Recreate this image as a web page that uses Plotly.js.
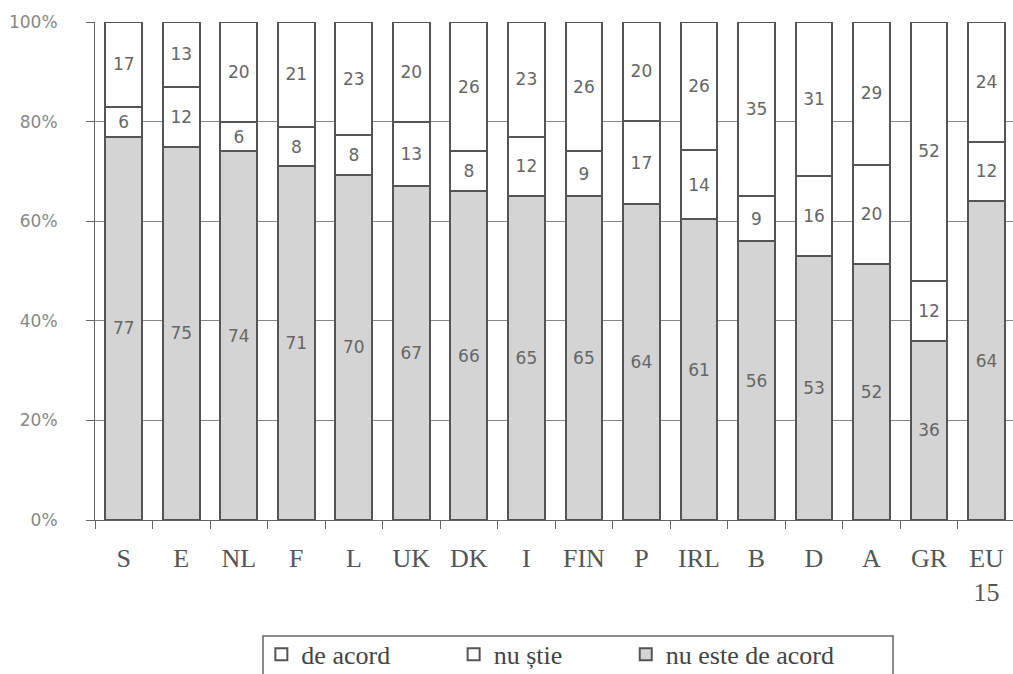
<!DOCTYPE html>
<html>
<head>
<meta charset="utf-8">
<script src="https://cdn.plot.ly/plotly-3.0.1.min.js"></script>
<style>html,body{margin:0;padding:0;background:#fff;}#chart{width:1013px;height:674px;}</style>
</head>
<body>
<div id="chart"></div>
<script>
const categories = ["S","E","NL","F","L","UK","DK","I","FIN","P","IRL","B","D","A","GR","EU<br>15"];
const seriesNames = ["nu este de acord","nu știe","de acord"];
const deAcord = [17,13,20,21,23,20,26,23,26,20,26,35,31,29,52,24];
const nuStie = [6,12,6,8,8,13,8,12,9,17,14,9,16,20,12,12];
const nuEsteDeAcord = [77,75,74,71,70,67,66,65,65,64,61,56,53,52,36,64];
const yTicks = [0,20,40,60,80,100];
const yTickLabels = ["0%","20%","40%","60%","80%","100%"];

const pad = '\u00a0'.repeat(9);
const lineStyle = {color:'#555', width:2};
const textFont = {family:'DejaVu Sans', size:17, color:'#666'};
function mk(name, vals, fill){
  return {
    type:'bar', name:name, x:categories, y:vals,
    text:vals.map(String), textposition:'inside', insidetextanchor:'middle',
    textfont:textFont, textangle:0,
    marker:{color:fill, line:lineStyle},
    hoverinfo:'skip'
  };
}
const data = [
  mk(seriesNames[0], nuEsteDeAcord, '#d4d4d4'),
  mk(seriesNames[1] + pad, nuStie, '#ffffff'),
  mk(seriesNames[2] + pad, deAcord, '#ffffff')
];
const layout = {
  width:1013, height:674,
  margin:{l:95, r:0, t:22, b:154},
  barmode:'stack', barnorm:'percent', bargap:0.36,
  paper_bgcolor:'#fff', plot_bgcolor:'#fff',
  showlegend:true,
  legend:{orientation:'h', traceorder:'reversed', xref:'container', yref:'container',
    x:0.258, xanchor:'left', y:0.064, yanchor:'top', bgcolor:'rgba(0,0,0,0)',
    font:{family:'Liberation Serif', size:26, color:'#444'},
    borderwidth:0, itemwidth:30},
  shapes:[{type:'rect', xref:'paper', yref:'paper', x0:(263-95)/918, x1:(893-95)/918,
    y0:(520-636)/498, y1:(520-700)/498, line:{color:'#666', width:1.5}, fillcolor:'rgba(0,0,0,0)'}],
  xaxis:{type:'category', range:[-0.5,15.46], showgrid:false, showline:true, linecolor:'#666', linewidth:1,
    ticks:'outside', tickson:'boundaries', ticklen:8, tickcolor:'#666', automargin:false,
    tickfont:{family:'Liberation Serif', size:26, color:'#555'}, ticklabelstandoff:15, fixedrange:true},
  yaxis:{range:[0,100], tickvals:yTicks, ticktext:yTickLabels, showgrid:true, gridcolor:'#888', gridwidth:1,
    showline:true, linecolor:'#666', linewidth:1, ticks:'outside', ticklen:8, tickcolor:'#666', automargin:false,
    tickfont:{family:'DejaVu Sans', size:17, color:'#888'}, ticklabelstandoff:25, zeroline:false}
};
Plotly.newPlot('chart', data, layout, {staticPlot:true});
</script>
</body>
</html>
